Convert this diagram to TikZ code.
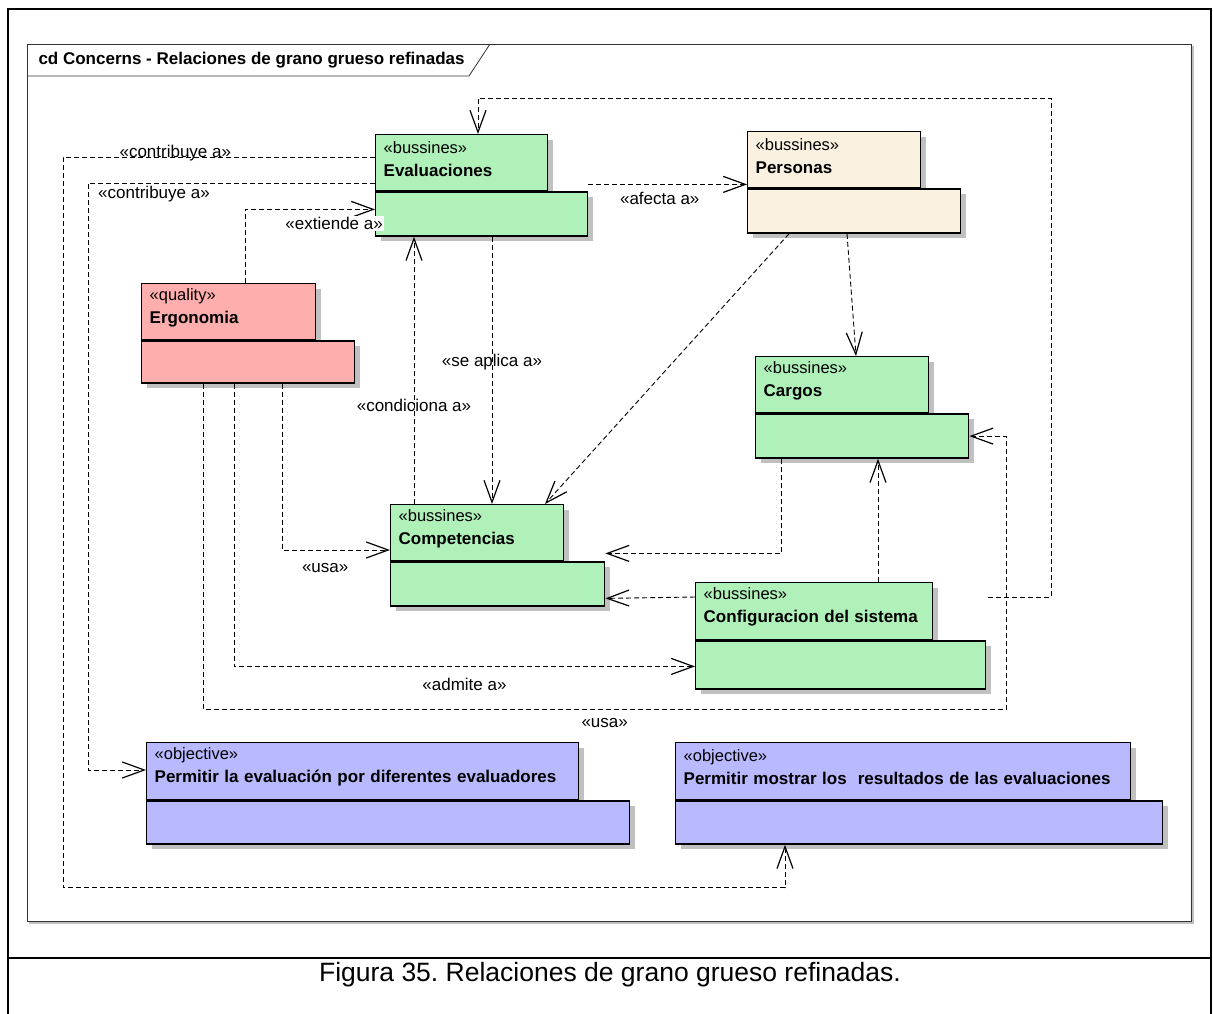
\documentclass[tikz,border=0pt]{standalone}
\usepackage{fontspec}
\setmainfont{Liberation Sans}
\usetikzlibrary{arrows.meta,calc,shadows}
\frenchspacing

\definecolor{verde}{RGB}{176,240,185}
\definecolor{beige}{RGB}{251,241,225}
\definecolor{rosa}{RGB}{255,174,174}
\definecolor{azul}{RGB}{185,185,255}
\definecolor{sombra}{RGB}{192,192,192}

\newcommand{\nom}[1]{\textbf{\fontsize{17}{20}\selectfont #1}}

\begin{document}
\begin{tikzpicture}[x=1pt,y=-1pt,
  clase/.style={draw, line width=1.4pt, anchor=north west, inner sep=0pt, align=left,
    font=\fontsize{16.5}{23}\selectfont, text height=4pt,
    general shadow={fill=sombra, shadow xshift=5pt, shadow yshift=-5pt}},
  dep/.style={line width=0.9pt, dash pattern=on 5pt off 3pt,
    -{Straight Barb[length=22pt,width=16pt,line width=1.2pt]}},
  lbl/.style={font=\fontsize{17}{19}\selectfont, inner sep=2pt}]
  \useasboundingbox (0,0) rectangle (1213,1013);

  % marcos
  \draw[line width=2pt] (8,1014) -- (8,9) -- (1211,9) -- (1211,1014);
  \draw[line width=2pt] (8,958) -- (1211,958);
  \draw[sombra, line width=2pt] (29,923) -- (1193,923) -- (1193,46);
  \draw[black!80, line width=0.8pt] (27,44) rectangle (1191,921);
  \draw[black!80, line width=0.8pt] (27,76) -- (469,76) -- (490,44);
  \node[anchor=west, font=\bfseries\fontsize{17}{20}\selectfont] (titulo) at (35,60)
    {cd Concerns - Relaciones de grano grueso refinadas};
  \node[font=\fontsize{26.5}{30}\selectfont] (pie) at (610,975)
    {Figura 35. Relaciones de grano grueso refinadas.};

  % clases
  \node[clase, fill=verde, minimum width=172pt, minimum height=56pt, text width=156pt] (eval) at (375,134)
    {«bussines»\\\nom{Evaluaciones}};
  \node[clase, fill=verde, minimum width=212pt, minimum height=44pt] (evalb) at (eval.south west) {};
  \node[clase, fill=beige, minimum width=173pt, minimum height=56pt, text width=157pt] (pers) at (747,131)
    {«bussines»\\\nom{Personas}};
  \node[clase, fill=beige, minimum width=213pt, minimum height=44pt] (persb) at (pers.south west) {};
  \node[clase, fill=rosa, minimum width=174pt, minimum height=56pt, text width=158pt] (ergo) at (141,283)
    {«quality»\\\nom{Ergonomia}};
  \node[clase, fill=rosa, minimum width=213pt, minimum height=42pt] (ergob) at (ergo.south west) {};
  \node[clase, fill=verde, minimum width=173pt, minimum height=56pt, text width=157pt] (comp) at (390,504)
    {«bussines»\\\nom{Competencias}};
  \node[clase, fill=verde, minimum width=214pt, minimum height=44pt] (compb) at (comp.south west) {};
  \node[clase, fill=verde, minimum width=173pt, minimum height=56pt, text width=157pt] (carg) at (755,356)
    {«bussines»\\\nom{Cargos}};
  \node[clase, fill=verde, minimum width=213pt, minimum height=44pt] (cargb) at (carg.south west) {};
  \node[clase, fill=verde, minimum width=237pt, minimum height=57pt, text width=221pt] (conf) at (695,582)
    {«bussines»\\\nom{Configuracion del sistema}};
  \node[clase, fill=verde, minimum width=290pt, minimum height=48pt] (confb) at (conf.south west) {};
  \node[clase, fill=azul, minimum width=432pt, minimum height=57pt, text width=416pt] (obj1) at (146,742)
    {«objective»\\\nom{Permitir la evaluación por diferentes evaluadores}};
  \node[clase, fill=azul, minimum width=483pt, minimum height=43pt] (obj1b) at (obj1.south west) {};
  \node[clase, fill=azul, minimum width=455pt, minimum height=57pt, text width=439pt] (obj2) at (675,742)
    {«objective»\\\nom{Permitir mostrar los~ resultados de las evaluaciones}};
  \node[clase, fill=azul, minimum width=487pt, minimum height=43pt] (obj2b) at (obj2.south west) {};

  % dependencias
  \draw[dep] ($(evalb.north east)+(0,-7)$) -- ($(pers.south west)+(0,-4)$)
    node[lbl, below=5pt, pos=.45] (lAfecta) {«afecta a»};
  \draw[dep] ($(conf.north east)+(55,15)$) -- ++(63,0) |- ($(eval.north west)+(103,-36)$)
    -- ($(eval.north west)+(103,0)$);
  \draw[dep] ($(ergo.north west)+(104,0)$) |- ($(evalb.north west)+(0,18)$);
  \draw[dep] ($(eval.north west)+(0,23)$) -- ++(-312,0)
    node[lbl, anchor=base, pos=.64] (lContrib) {«contribuye a»}
    |- ($(obj2b.south west)+(110,43)$) -- ($(obj2b.south west)+(110,0)$);
  \draw[dep] ($(eval.north west)+(0,49)$) -- ++(-287,0)
    node[lbl, below=1pt, pos=.77] (lContribB) {«contribuye a»}
    |- ($(obj1.north west)+(0,28)$);
  \draw[dep] ($(evalb.south west)+(117,0)$) -- ($(comp.north west)+(102,0)$)
    node[lbl, pos=.47] (lAplica) {«se aplica a»};
  \draw[dep] ($(comp.north west)+(24,0)$) -- ($(evalb.south west)+(39,0)$)
    node[lbl, pos=.37] (lCondic) {«condiciona a»};
  \draw[dep] ($(persb.south west)+(42,0)$) -- ($(comp.north west)+(155,0)$);
  \draw[dep] ($(persb.south west)+(100,0)$) -- ($(carg.north west)+(101,0)$);
  \draw[dep] ($(ergob.south west)+(141,0)$) |- ($(comp.north west)+(0,46)$)
    node[lbl, below=11pt, pos=.7] (lUsa) {«usa»};
  \draw[dep] ($(ergob.south west)+(93,0)$) |- ($(confb.north west)+(0,26)$)
    node[lbl, below=9pt, pos=.75] (lAdmite) {«admite a»};
  \draw[dep] ($(ergob.south west)+(62,0)$) |- ($(cargb.east)+(37,273)$)
    node[lbl, below=7pt, pos=.75] (lUsaB) {«usa»}
    |- (cargb.east);
  \draw[dep] ($(cargb.south west)+(26,0)$) |- ($(compb.north east)+(0,-8)$);
  \draw[dep] ($(conf.north west)+(0,15)$) -- ($(compb.north east)+(0,37)$);
  \draw[dep] ($(conf.north west)+(183,0)$) -- ($(cargb.south west)+(123,0)$);
  \node[lbl, fill=white, anchor=north east, inner sep=1pt] (lExtiende) at (384,216) {«extiende a»};
\end{tikzpicture}
\end{document}
